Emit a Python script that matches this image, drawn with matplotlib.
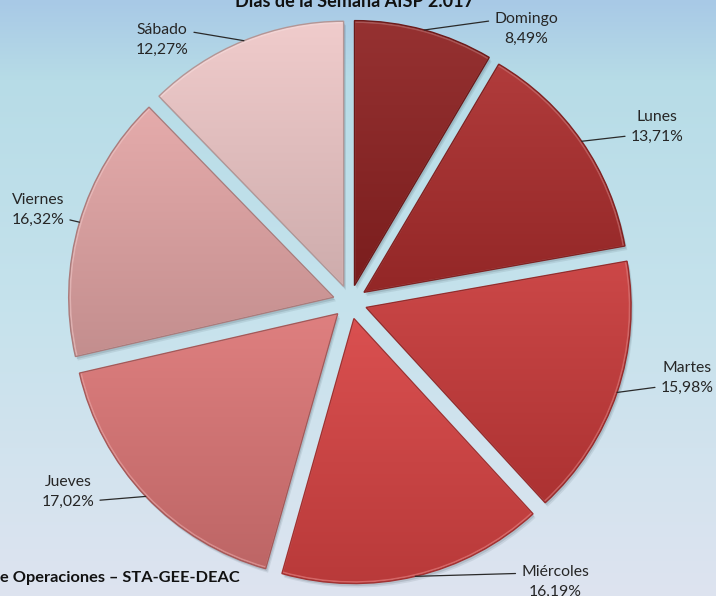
import numpy as np
import matplotlib
matplotlib.use('Agg')
import matplotlib.pyplot as plt
from matplotlib.patches import Wedge
from matplotlib.colors import to_rgb

# ---------------- data ----------------
days = ['Domingo', 'Lunes', 'Martes', 'Miércoles', 'Jueves', 'Viernes', 'Sábado']
shares = [8.49, 13.71, 15.98, 16.19, 17.02, 16.32, 12.27]
pct_labels = ['8,49%', '13,71%', '15,98%', '16,19%', '17,02%', '16,32%', '12,27%']
title = 'Días de la Semana AISP 2.017'
footer = 'e Operaciones – STA-GEE-DEAC'

# ---------------- style / layout ----------------
colors = ['#8e2222', '#ab2d2d', '#c83a3a', '#d74343', '#dc7676', '#e3a5a5', '#efc8c8']
W, H = 716, 596
FONT = ['Lato', 'DejaVu Sans']
# label centres in image pixels (x, y from top)
label_pos = [(526, 29), (657, 127), (687, 378), (555, 582), (68, 492), (38, 210), (162, 40)]
label_rel = [(0, 0.75), (0, 0.25), (0, 0.25), (0, 0.75), (1, 0.25), (1, 0.25), (1, 0.75)]

fig = plt.figure(figsize=(W / 100, H / 100), dpi=100)
ax = fig.add_axes([0, 0, 1, 1])

# background vertical gradient (row 0 = top of picture)
stops_y = np.array([0, 80, 300, 596])
stops_c = np.array([[168, 201, 230], [183, 220, 231], [197, 226, 236], [222, 228, 240]]) / 255
ys = np.arange(H)
bg = np.stack([np.interp(ys, stops_y, stops_c[:, k]) for k in range(3)], axis=1)
bg = np.repeat(bg[:, None, :], 2, axis=1)
ax.imshow(bg, extent=(0, W, 0, H), origin='upper', aspect='auto', zorder=0,
          interpolation='bilinear')

# pie
cx, cy, R = 350, H - 302, 265
explode = [17] * len(shares)
wedges, _ = ax.pie(shares, startangle=90, counterclock=False, radius=R, center=(cx, cy),
                   explode=explode, colors=colors, frame=True,
                   wedgeprops=dict(edgecolor='none'))

for w, c in zip(wedges, colors):
    base = np.array(to_rgb(c))
    # soft shadow
    for k, a in ((4, 0.10), (2.5, 0.15)):
        sh = Wedge((w.center[0] + k * 0.6, w.center[1] - k), w.r, w.theta1, w.theta2,
                   facecolor='#30404a', alpha=a, edgecolor='none', zorder=1)
        ax.add_patch(sh)
    # vertical gradient fill: lighter at top, darker at bottom
    ext = w.get_path().get_extents()
    light = base + (1 - base) * 0.07
    dark = base * 0.86
    t = np.linspace(0, 1, 256)[:, None]
    grad = dark[None, :] * (1 - t) + light[None, :] * t
    grad = np.repeat(grad[:, None, :], 2, axis=1)
    im = ax.imshow(grad, extent=(ext.x0, ext.x1, ext.y0, ext.y1), origin='lower',
                   aspect='auto', zorder=2, interpolation='bilinear')
    im.set_clip_path(w)
    # bevel: light inner rim + darker outline
    hl = Wedge(w.center, w.r - 1.5, w.theta1, w.theta2, width=None,
               facecolor='none', edgecolor=tuple(base + (1 - base) * 0.35),
               linewidth=1.2, alpha=0.6, zorder=3)
    hl.set_clip_path(w)
    ax.add_patch(hl)
    w.set_facecolor('none')
    w.set_edgecolor(tuple(base * 0.75))
    w.set_linewidth(1.0)
    w.set_zorder(4)

# labels with leader lines
for w, d, p, (lx, ly), rp in zip(wedges, days, pct_labels, label_pos, label_rel):
    mid = np.deg2rad((w.theta1 + w.theta2) / 2)
    anchor = (w.center[0] + w.r * np.cos(mid), w.center[1] + w.r * np.sin(mid))
    ax.annotate(f'{d}\n{p}', xy=anchor, xytext=(lx, H - ly), textcoords='data',
                ha='center', va='center', fontsize=11.3, family=FONT, linespacing=1.6,
                color='#262626', zorder=5,
                arrowprops=dict(arrowstyle='-', color='#2a2a2a', lw=0.9, relpos=rp,
                                shrinkA=2, shrinkB=0))

ax.text(355, H - 7, title, ha='center', va='baseline', fontweight='bold', fontsize=13,
        family=FONT, color='#111111', zorder=5)
ax.text(0, H - 578, footer, ha='left', va='center', fontweight='bold', fontsize=11.8,
        family=FONT, color='#111111', zorder=5)

ax.set_xlim(0, W)
ax.set_ylim(0, H)
ax.set_aspect('auto')
ax.axis('off')
fig.savefig('out.png', dpi=100)
